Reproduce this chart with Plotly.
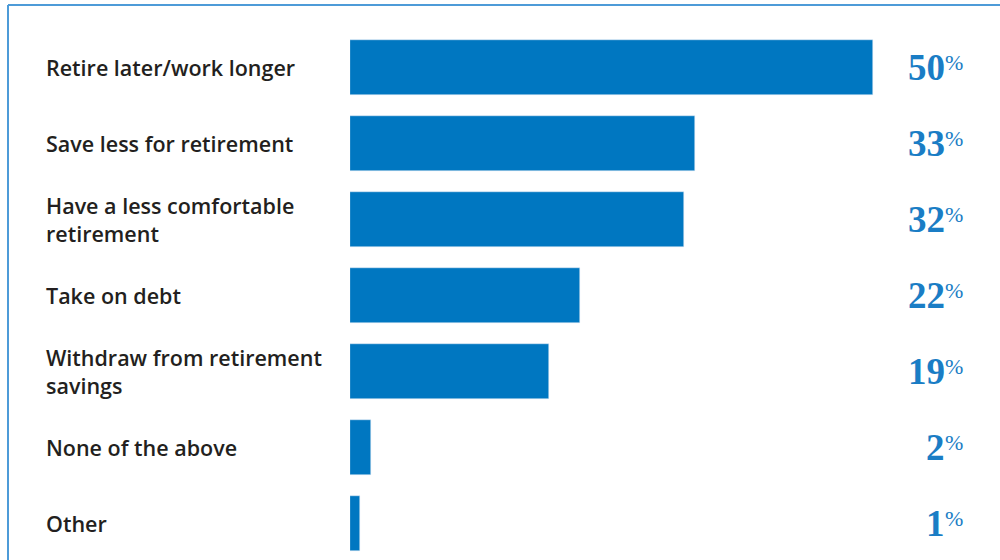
import plotly.graph_objects as go

categories = ["Retire later/work longer", "Save less for retirement",
              "Have a less comfortable<br>retirement", "Take on debt",
              "Withdraw from retirement<br>savings", "None of the above", "Other"]
values = [50, 33, 32, 22, 19, 2, 1]

BAR = "#0077c1"
W, H = 1000, 560
L, R, T, B = 350, 0, 5, 0
pw = W - L - R
px_per = 10.45
pos = list(range(len(categories)))

fig = go.Figure(go.Bar(x=values, y=pos, orientation="h", marker_color=BAR,
                       width=0.724, hoverinfo="skip"))

def px_to_paper(px):
    return (px - L) / pw

for i, (c, v) in enumerate(zip(categories, values)):
    fig.add_annotation(x=px_to_paper(44), xref="paper", y=i, yref="y",
                       text=c, showarrow=False, xanchor="left", align="left",
                       font=dict(family="Open Sans", size=21.5, color="#231f20", weight=600))
    fig.add_annotation(x=px_to_paper(947), xref="paper", y=i, yref="y",
                       text=f"<b>{v}</b>", showarrow=False, xanchor="right",
                       font=dict(family="Liberation Serif", size=37, color="#1a7dc5"))
    fig.add_annotation(x=px_to_paper(943), xref="paper", y=i, yref="y",
                       text="%", showarrow=False, xanchor="left", yshift=5,
                       font=dict(family="Liberation Serif", size=22, color="#1a7dc5"))

fig.add_shape(type="line", xref="paper", yref="paper", x0=px_to_paper(8), x1=1.0,
              y0=1, y1=1, line=dict(color="#4d9bd8", width=2))
fig.add_shape(type="line", xref="paper", yref="paper", x0=px_to_paper(8), x1=px_to_paper(8),
              y0=1, y1=-0.1, line=dict(color="#4d9bd8", width=2))

fig.update_layout(width=W, height=H, margin=dict(l=L, r=R, t=T, b=B),
                  plot_bgcolor="white", paper_bgcolor="white", showlegend=False,
                  bargap=0)
fig.update_xaxes(range=[0, pw / px_per], visible=False, fixedrange=True)
fig.update_yaxes(range=[6.48, -0.822], visible=False, fixedrange=True)
fig.write_html("out.html", config={"displayModeBar": False},
               post_script="document.body.style.margin='0';document.body.style.overflow='hidden';")
